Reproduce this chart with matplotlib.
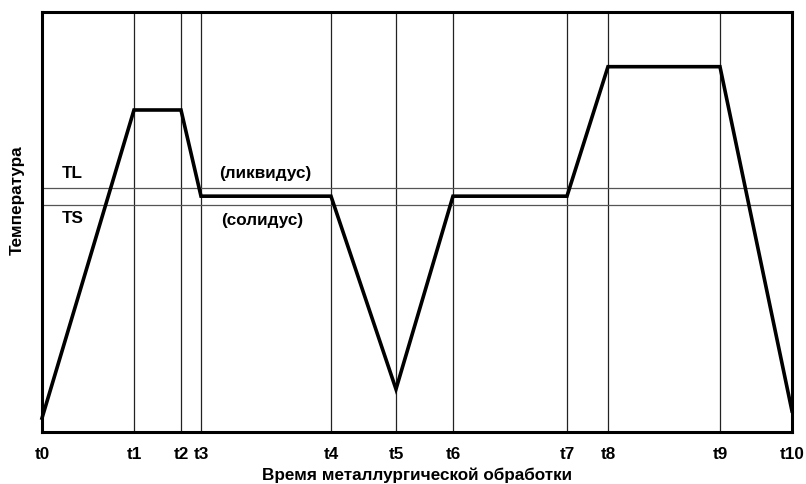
import matplotlib
matplotlib.use("Agg")
import matplotlib.pyplot as plt

plt.rcParams['font.family'] = ['Liberation Sans', 'DejaVu Sans']

# time marks (arbitrary units) and labels
time_labels = ["t0", "t1", "t2", "t3", "t4", "t5", "t6", "t7", "t8", "t9", "t10"]
time_values = [0, 92, 139, 159, 289, 354, 411, 525, 566, 678, 750]
# temperature profile at each time mark (arbitrary units, 0..100)
temperature = [3.3, 76.6, 76.6, 56.1, 56.1, 10.2, 56.1, 56.1, 86.9, 86.9, 5.0]
TL_level = 58.0
TS_level = 54.0

FS = 12.3

fig = plt.figure(figsize=(8.06, 4.84), dpi=100)
ax = fig.add_axes([0.0521, 0.1074, 0.9305, 0.8686])
ax.set_xlim(0, 750)
ax.set_ylim(0, 100)

for t in time_values[1:-1]:
    ax.axvline(t, color='#222222', lw=0.9, zorder=1)
ax.axhline(TL_level, color='#555555', lw=0.9, zorder=1)
ax.axhline(TS_level, color='#555555', lw=0.9, zorder=1)

ax.plot(time_values, temperature, color='black', lw=2.6, zorder=3,
        solid_joinstyle='miter', clip_on=False)

ax.text(20, 61.6, "TL", fontsize=FS, fontweight='bold', va='center', ha='left')
ax.text(20, 50.9, "TS", fontsize=FS, fontweight='bold', va='center', ha='left')
ax.text(177, 61.6, "(ликвидус)", fontsize=FS, fontweight='bold', va='center', ha='left')
ax.text(179, 50.4, "(солидус)", fontsize=FS, fontweight='bold', va='center', ha='left')

ax.set_xticks(time_values)
ax.set_xticklabels(time_labels, fontsize=FS, fontweight='bold')
ax.tick_params(axis='x', length=0, pad=10.5)
ax.set_yticks([])
ax.set_xlabel("Время металлургической обработки", fontsize=FS, fontweight='bold')
ax.xaxis.set_label_coords(0.5, -0.084)
ax.set_ylabel("Температура", fontsize=FS, fontweight='bold')
ax.yaxis.set_label_coords(-0.0227, 0.552)

for s in ax.spines.values():
    s.set_linewidth(2.2)
    s.set_color('black')

fig.savefig("out.png", dpi=100)
